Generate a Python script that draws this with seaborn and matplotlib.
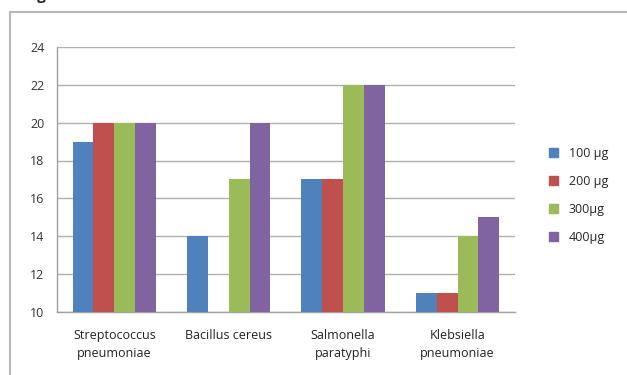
import pandas as pd
import numpy as np
import matplotlib.pyplot as plt
import matplotlib.patches as mpatches
import seaborn as sns

# data
categories = ["Streptococcus\npneumoniae", "Bacillus cereus", "Salmonella\nparatyphi", "Klebsiella\npneumoniae"]
doses = ["100 µg", "200 µg", "300µg", "400µg"]
v100 = [19, 14, 17, 11]
v200 = [20, np.nan, 17, 11]
v300 = [20, 17, 22, 14]
v400 = [20, 20, 22, 15]
colors = ["#4F81BD", "#C0504D", "#9BBB59", "#8064A2"]

rows = []
for d, vals in zip(doses, [v100, v200, v300, v400]):
    for c, v in zip(categories, vals):
        rows.append({"organism": c, "dose": d, "zone": v})
df = pd.DataFrame(rows)

sns.set_style("white")
plt.rcParams['font.family'] = ['Open Sans', 'DejaVu Sans']

fig = plt.figure(figsize=(6.27, 3.75), dpi=100)
ax = fig.add_axes([0.091, 0.168, 0.73, 0.707])

sns.barplot(data=df, x="organism", y="zone", hue="dose", palette=colors,
            width=0.73, saturation=1, linewidth=0, ax=ax, legend=True, zorder=3)

ax.set_ylim(10, 24)
ax.set_yticks(range(10, 25, 2))
ax.set_xlim(-0.5, 3.5)
ax.set_xlabel("")
ax.set_ylabel("")
ax.yaxis.grid(True, color="#B0B0B0", linewidth=1, zorder=0)
ax.set_axisbelow(True)
for s in ["top", "right"]:
    ax.spines[s].set_visible(False)
for s in ["left", "bottom"]:
    ax.spines[s].set_color("#A0A0A0")
    ax.spines[s].set_linewidth(1)

ax.tick_params(axis="y", length=5, color="#A0A0A0", labelsize=9, labelcolor="#333333", pad=4)
ax.tick_params(axis="x", length=0, labelsize=9, labelcolor="#222222", pad=12)
# category boundary ticks on the x axis
ax.set_xticks([-0.5, 0.5, 1.5, 2.5, 3.5], minor=True)
ax.tick_params(axis="x", which="minor", length=5, color="#A0A0A0")
for t in ax.get_xticklabels():
    t.set_linespacing(1.5)

handles = [mpatches.Patch(color=c) for c in colors]
leg = ax.legend(handles, doses, loc="center left", bbox_to_anchor=(1.05, 0.44),
                frameon=False, fontsize=9, handlelength=0.7, handleheight=0.7,
                labelspacing=1.2, handletextpad=0.9)

# outer chart frame
fig.patches.append(mpatches.Rectangle((10 / 627, -0.05), 1.1, 1 - 12 / 375 + 0.05,
                                      transform=fig.transFigure, fill=False,
                                      edgecolor="#B8B8B8", linewidth=1.5))
# caption cut off above the frame, only the descender shows
fig.text(0.04, 0.999, "Fig", fontsize=11, fontweight="bold", ha="left", va="baseline")

fig.savefig("out.png", dpi=100)
